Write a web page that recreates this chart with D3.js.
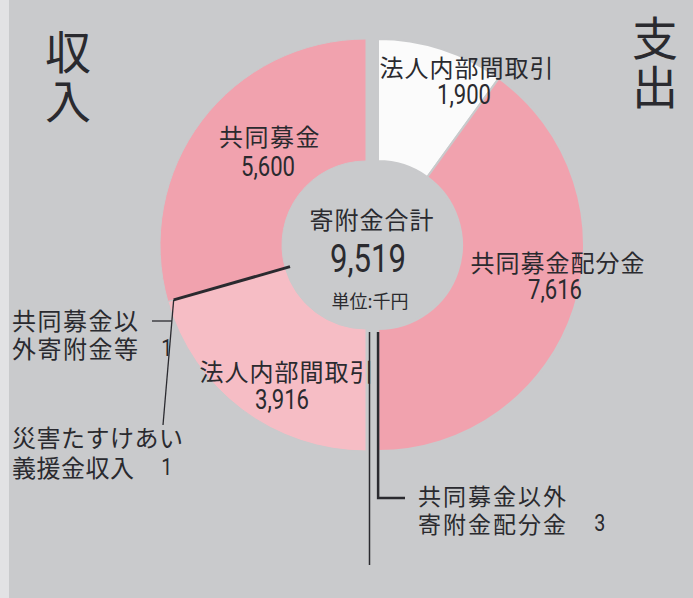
<!DOCTYPE html>
<html>
<head>
<meta charset="utf-8">
<script src="https://cdn.jsdelivr.net/npm/d3@7"></script>
<style>
  html, body { margin: 0; padding: 0; background: #c9cacc; }
  #pieDiv { position: relative; width: 693px; height: 598px; }
  svg { display: block; }
  text { fill: #2a2a2f; font-family: "Noto Sans CJK JP", sans-serif; font-weight: 400; }
  .num { font-family: "Roboto", "Noto Sans", sans-serif; font-weight: 400; }
  .mlabel { position: absolute; color: #2a2a2f; font-family: "Noto Sans CJK JP", sans-serif;
            font-size: 24px; white-space: nowrap; }
  .mlabel .v { position: absolute; font-family: "Roboto", sans-serif; transform: scaleX(0.82);
               letter-spacing: 0; }
</style>
</head>
<body>
<div id="pieDiv"></div>
<script>
// 寄附金の収入と支出（単位:千円）
const totalLabel = "寄附金合計";
const totalValue = 9519;
const unitLabel = "単位:千円";

const incomeNames  = ["法人内部間取引", "共同募金以外寄附金等", "災害たすけあい義援金収入", "共同募金"];
const incomeValues = [3916, 1, 1, 5600];

const outNames  = ["法人内部間取引", "共同募金配分金", "共同募金以外寄附金配分金"];
const outValues = [1900, 7616, 3];

const sliceColors = {
	"income-0": "#f6bdc5",
	"income-3": "#f1a2ae",
	"out-0": "#fbfbfb",
	"out-1": "#f1a2ae"
};

const W = 693, H = 598;
const cy = 245, rOuter = 206, rInner = 84;
const cxLeft = 366, cxRight = 378;
const bg = "#c9cacc", ink = "#2a2a2f";

const pieDiv = d3.select("#pieDiv");
const svg = pieDiv.append("svg")
	.attr("width", W)
	.attr("height", H);

// scan edge on the left
svg.append("rect")
	.attr("x", 0).attr("y", 0).attr("width", 9).attr("height", H)
	.attr("fill", "#e2e2e4");

const arcFunc = d3.arc().innerRadius(rInner).outerRadius(rOuter);

function halfPie(values, start, end){
	return d3.pie().sort(null).value(d => d).startAngle(start).endAngle(end)(values);
}

function polar(cx, angle, r){
	return [cx + r * Math.sin(angle), cy - r * Math.cos(angle)];
}

const inArcs = halfPie(incomeValues, Math.PI, 2 * Math.PI);
const outArcs = halfPie(outValues, 0, Math.PI);

const gL = svg.append("g").attr("transform", `translate(${cxLeft},${cy})`);
const gR = svg.append("g").attr("transform", `translate(${cxRight},${cy})`);

gL.selectAll("path")
	.data(inArcs.filter(d => sliceColors["income-" + d.index]))
	.enter().append("path")
	.attr("d", arcFunc)
	.attr("fill", d => sliceColors["income-" + d.index])
	.attr("stroke", bg)
	.attr("stroke-width", 1);

gR.selectAll("path")
	.data(outArcs.filter(d => sliceColors["out-" + d.index]))
	.enter().append("path")
	.attr("d", arcFunc)
	.attr("fill", d => sliceColors["out-" + d.index])
	.attr("stroke", bg)
	.attr("stroke-width", 2);

// tiny income slices drawn as a bar + leaders
const aIn = (inArcs[1].startAngle + inArcs[2].endAngle) / 2;
const p0 = polar(cxLeft, aIn, rInner - 5);
const p1 = polar(cxLeft, aIn, rOuter - 6);
svg.append("line")
	.attr("x1", p0[0]).attr("y1", p0[1]).attr("x2", p1[0]).attr("y2", p1[1])
	.attr("stroke", ink).attr("stroke-width", 3);
// leader to 災害 label
const leadEnd = [163, 425];
svg.append("line")
	.attr("x1", p1[0]).attr("y1", p1[1]).attr("x2", leadEnd[0]).attr("y2", leadEnd[1])
	.attr("stroke", ink).attr("stroke-width", 1.3);
const stubY = 321;
const tStub = (stubY - p1[1]) / (leadEnd[1] - p1[1]);
const stubX = p1[0] + tStub * (leadEnd[0] - p1[0]);
svg.append("line")
	.attr("x1", 152).attr("y1", stubY).attr("x2", stubX).attr("y2", stubY)
	.attr("stroke", ink).attr("stroke-width", 1.3);

// tiny expenditure slice
const tinyOut = outArcs[2];
const aOut = (tinyOut.startAngle + tinyOut.endAngle) / 2;
const q0 = polar(cxRight, aOut, rInner + 3);
const q1 = polar(cxRight, aOut, 253);
svg.append("path")
	.attr("d", `M${q0[0]},${q0[1]} L${q1[0]},${q1[1]} L405,${q1[1]}`)
	.attr("fill", "none").attr("stroke", ink).attr("stroke-width", 2.5);

// divider between income and expenditure
svg.append("line")
	.attr("x1", 369.5).attr("y1", cy + rInner + 3).attr("x2", 369.5).attr("y2", 565)
	.attr("stroke", ink).attr("stroke-width", 1.5);

// labels
function label(txt, x, y, size, opts){
	opts = opts || {};
	const sx = opts.sx || 1;
	return svg.append("text")
		.attr("transform", `translate(${x},${y}) scale(${sx},1)`)
		.attr("text-anchor", opts.anchor || "middle")
		.attr("dominant-baseline", "central")
		.attr("class", opts.cls || null)
		.style("font-size", size + "px")
		.style("letter-spacing", (opts.sp || 0) + "px")
		.text(txt);
}

// vertical heading
function vlabel(txt, x, yTop, size, sp){
	return svg.append("text")
		.attr("x", x).attr("y", yTop)
		.style("writing-mode", "vertical-rl")
		.style("font-size", size + "px")
		.style("letter-spacing", sp + "px")
		.text(txt);
}

// two-line html label (first line centred on y1)
function mlabel(line1, line2, val, x, y1, lineH, size, sp, valX){
	const d = pieDiv.append("div").attr("class", "mlabel")
		.style("left", x + "px")
		.style("top", (y1 - lineH / 2) + "px")
		.style("line-height", lineH + "px")
		.style("font-size", size + "px")
		.style("letter-spacing", sp + "px");
	d.append("span").text(line1);
	d.append("br");
	d.append("span").text(line2);
	d.append("span").attr("class", "v")
		.style("left", (valX - x) + "px")
		.style("top", lineH + "px")
		.style("font-size", "24px")
		.text(fmt(val));
	return d;
}

const fmt = d3.format(",");
const numOpt = {cls: "num", sx: 0.82};

vlabel("収入", 68, 29, 46, 3);
vlabel("支出", 655, 15, 46, 3);

label(totalLabel, 372, 218, 24, {sp: 1});
label(fmt(totalValue), 368, 259, 38, numOpt);
label(unitLabel, 370, 300, 18);

label(outNames[0], 467, 66, 24, {sp: 1});
label(fmt(outValues[0]), 464, 95, 27, numOpt);
label(outNames[1], 558, 261, 24, {sp: 1});
label(fmt(outValues[1]), 555, 290, 27, numOpt);

label(incomeNames[3], 270, 135, 24, {sp: 1.5});
label(fmt(incomeValues[3]), 268, 167, 27, numOpt);
label(incomeNames[0], 287, 370, 24, {sp: 1});
label(fmt(incomeValues[0]), 282, 400, 27, numOpt);

mlabel("共同募金以", "外寄附金等", incomeValues[1], 12, 320, 28, 24, 1.5, 160);
mlabel("災害たすけあい", "義援金収入", incomeValues[2], 12, 437, 30, 24, 0.5, 160);
mlabel("共同募金以外", "寄附金配分金", outValues[2], 418, 495, 28, 23, 2, 593);
</script>
</body>
</html>
